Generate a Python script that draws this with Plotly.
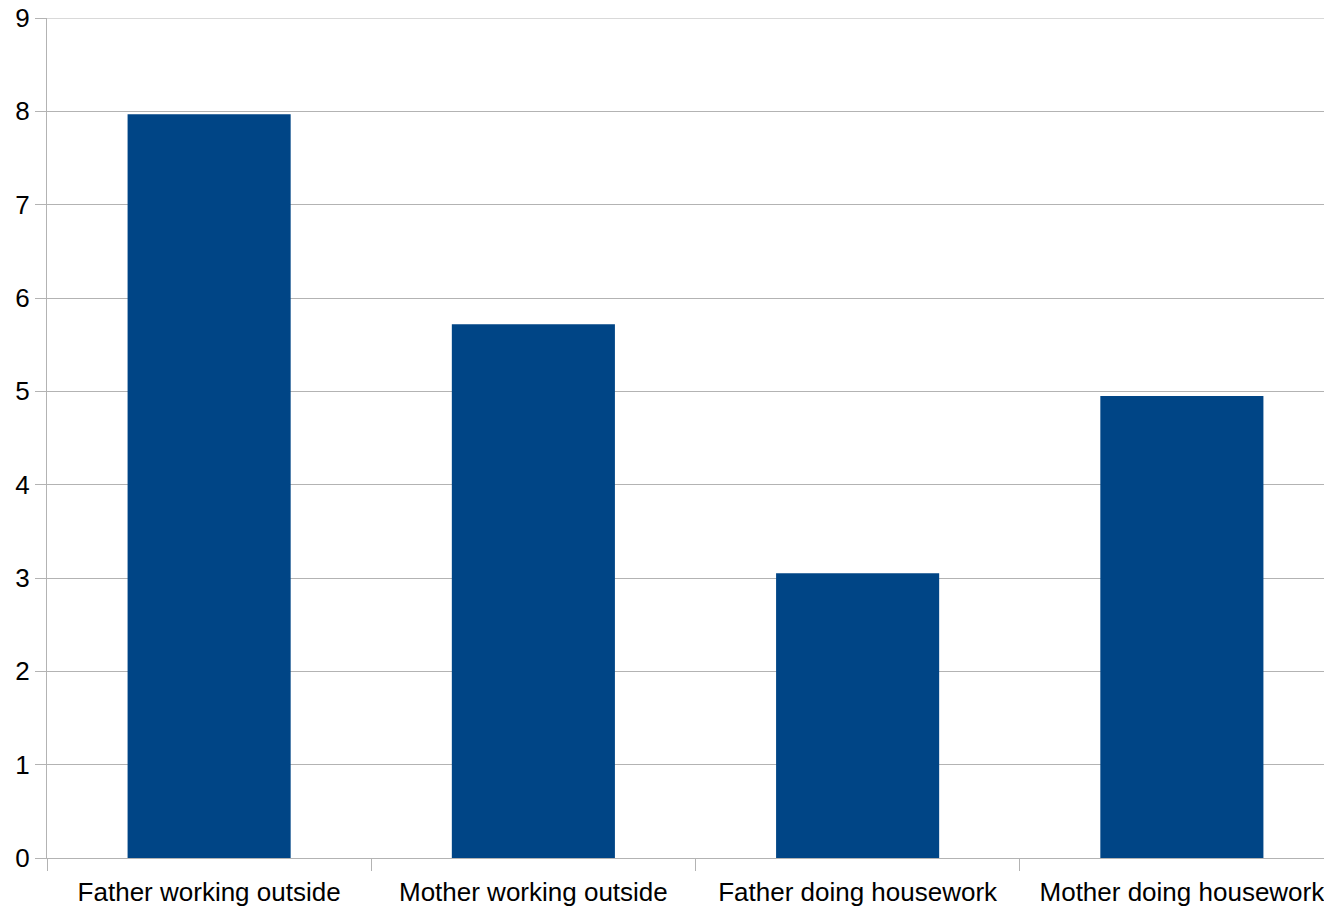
import plotly.graph_objects as go

categories = ["Father working outside", "Mother working outside", "Father doing housework", "Mother doing housework"]
values = [7.97, 5.72, 3.05, 4.95]
y_ticks = [0, 1, 2, 3, 4, 5, 6, 7, 8, 9]

# page body has an 8px default margin
W, H = 1340, 903
ml, mr, mt, mb = 39, 0, 10, 53
cat_w = 324.25
plot_w = W - ml - mr
x_max = -0.5 + plot_w / cat_w

fig = go.Figure(go.Bar(x=categories, y=values, marker_color="#004586",
                       marker_line_width=0, width=0.503))
grid = "#b3b3b3"
fig.add_shape(type="line", xref="paper", x0=0, x1=1, yref="y", y0=max(y_ticks), y1=max(y_ticks),
              line=dict(color=grid, width=1), layer="below")
fig.update_layout(
    width=W, height=H, margin=dict(l=ml, r=mr, t=mt, b=mb, autoexpand=False),
    plot_bgcolor="white", paper_bgcolor="white",
    font=dict(family="Liberation Sans, Arial, sans-serif", size=26, color="#000000"),
    showlegend=False,
    xaxis=dict(type="category", range=[-0.5, x_max], automargin=False,
               tickson="boundaries", ticks="outside", ticklen=12, ticklabelstandoff=11,
               tickcolor=grid, showline=True, linecolor=grid, linewidth=1, showgrid=False,
               zeroline=False, tickfont=dict(size=26), ticklabeloverflow="allow"),
    yaxis=dict(range=[0, 9], tickvals=y_ticks, ticks="outside", ticklen=11, tickcolor=grid,
               automargin=False,
               showline=True, linecolor=grid, linewidth=1, showgrid=True, gridcolor=grid,
               gridwidth=1, zeroline=False, tickfont=dict(size=26), ticklabeloverflow="allow"),
)
fig.write_html("out.html")
